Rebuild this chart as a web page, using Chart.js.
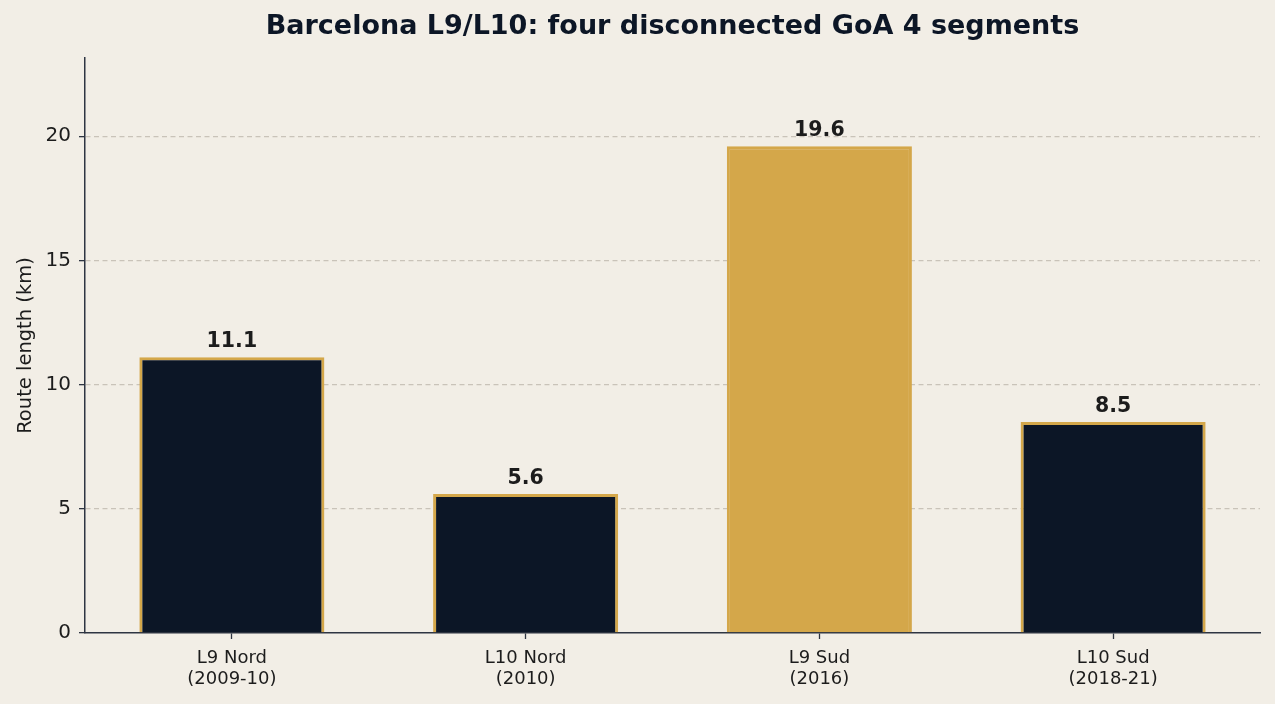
<!DOCTYPE html>
<html><head><meta charset="utf-8">
<script src="https://cdn.jsdelivr.net/npm/chart.js@4.4.1/dist/chart.umd.min.js"></script>
<style>
html,body{margin:0;padding:0;background:#F2EEE6;}
#wrap{width:1275px;height:704px;position:relative;}
</style></head>
<body><div id="wrap"><canvas id="c" width="1275" height="704"></canvas></div>
<script>
const categories = [["L9 Nord","(2009-10)"],["L10 Nord","(2010)"],["L9 Sud","(2016)"],["L10 Sud","(2018-21)"]];
const routeLengthKm = [11.1, 5.6, 19.6, 8.5];
const highlighted = [false, false, true, false];
const yTickValues = [0, 5, 10, 15, 20];
const titleText = "Barcelona L9/L10: four disconnected GoA 4 segments";
const yAxisTitle = "Route length (km)";

const NAVY = "#0C1626", GOLD = "#D4A74A", INK = "#1c1c1c", AXIS = "#2E3542";
const FONT = "'DejaVu Sans', sans-serif";

const bgPlugin = {
  id: 'bg',
  beforeDraw(chart){ const c=chart.ctx; c.save(); c.fillStyle="#F2EEE6"; c.fillRect(0,0,chart.width,chart.height); c.restore(); }
};
const titlePlugin = {
  id: 'ctitle',
  afterDraw(chart){
    const c = chart.ctx, a = chart.chartArea;
    c.save();
    c.font = "bold 27px " + FONT; c.fillStyle = "#0C1626"; c.textAlign = "center"; c.textBaseline = "middle";
    c.fillText(titleText, (a.left + a.right) / 2, 27);
    c.restore();
  }
};
const labelPlugin = {
  id: 'vals',
  afterDatasetsDraw(chart){
    const ctx = chart.ctx; const meta = chart.getDatasetMeta(0);
    ctx.save();
    ctx.font = "bold 20.5px " + FONT; ctx.fillStyle = INK; ctx.textAlign = "center"; ctx.textBaseline = "alphabetic";
    meta.data.forEach((bar,i)=>{ ctx.fillText(routeLengthKm[i].toFixed(1), bar.x, bar.y - 10); });
    ctx.restore();
  }
};

new Chart(document.getElementById('c'), {
  type: 'bar',
  data: {
    labels: categories,
    datasets: [{
      data: routeLengthKm,
      backgroundColor: highlighted.map(h => h ? GOLD : NAVY),
      borderColor: GOLD,
      borderWidth: 3,
      borderSkipped: 'start',
      barPercentage: 0.63,
      categoryPercentage: 1.0
    }]
  },
  options: {
    responsive: false,
    animation: false,
    devicePixelRatio: 1,
    layout: { padding: { left: 14, right: 15, top: 58, bottom: 0 } },
    plugins: {
      legend: { display: false },
      tooltip: { enabled: false },
      title: { display: false }
    },
    scales: {
      x: {
        afterFit(scale){ scale.height = 71; },
        grid: { display: true, offset: false, drawOnChartArea: false, drawTicks: true, tickLength: 6, tickColor: AXIS, tickWidth: 1.3, color: 'transparent' },
        border: { display: true, color: AXIS, width: 1.5 },
        ticks: { color: INK, font: { family: FONT, size: 18, lineHeight: 1.17 }, padding: 9 }
      },
      y: {
        min: 0, max: 23.15,
        afterBuildTicks(scale){ scale.ticks = yTickValues.map(v => ({ value: v })); },
        afterFit(scale){ scale.width = 71; },
        grid: { color: (c) => c.tick && c.tick.value === 0 ? 'transparent' : '#C9C3B9', lineWidth: 1.3,
                drawTicks: true, tickLength: 6, tickColor: AXIS, tickWidth: 1.3, tickBorderDash: [] },
        border: { display: true, color: AXIS, width: 1.5, dash: [5, 3.5] },
        ticks: { color: INK, font: { family: FONT, size: 20 }, padding: 8 },
        title: { display: true, text: yAxisTitle, color: INK, font: { family: FONT, size: 19.5 }, padding: { top: 0, bottom: 4 } }
      }
    }
  },
  plugins: [bgPlugin, titlePlugin, labelPlugin]
});
</script></body></html>
